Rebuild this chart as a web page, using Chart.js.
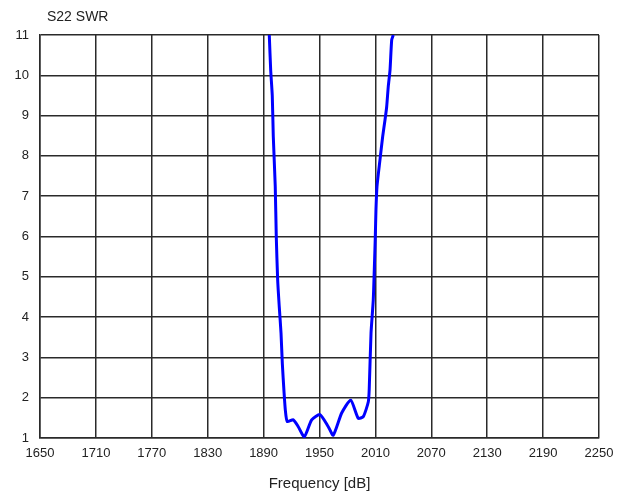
<!DOCTYPE html>
<html>
<head>
<meta charset="utf-8">
<script src="https://cdn.jsdelivr.net/npm/chart.js@4/dist/chart.umd.min.js"></script>
<style>
  html, body { margin: 0; padding: 0; background: #fff; }
  #swrChart { display: block; }
</style>
</head>
<body>
<canvas id="swrChart" width="629" height="497"></canvas>
<script>
// dados
const freqs = [1896.1, 1897.6, 1899.3, 1900.4, 1902.5, 1903.6, 1905.1, 1906.8, 1908.7, 1910.1,
  1911.9, 1913.3, 1915.4, 1921.9, 1927.2, 1933.7, 1941.6, 1950.5, 1959.4, 1964.8,
  1973.8, 1983.5, 1991.6, 1997.0, 2002.4, 2003.4, 2005.3, 2007.7, 2008.8, 2009.9,
  2010.6, 2011.7, 2014.9, 2017.8, 2020.3, 2022.1, 2023.8, 2025.7, 2027.5, 2029.2];
const swr = [11, 10.13, 9.5, 8.48, 7.24, 6.0, 4.92, 4.26, 3.6, 2.85,
  2.15, 1.7, 1.41, 1.45, 1.28, 1.03, 1.45, 1.58, 1.28, 1.07,
  1.62, 1.94, 1.49, 1.53, 1.9, 2.23, 3.6, 4.42, 5.17, 6.0,
  6.66, 7.24, 7.9, 8.48, 8.89, 9.22, 9.72, 10.13, 10.88, 11];
const xTicks = [1650, 1710, 1770, 1830, 1890, 1950, 2010, 2070, 2130, 2190, 2250];
const yTicks = [1, 2, 3, 4, 5, 6, 7, 8, 9, 10, 11];

const ctx = document.getElementById('swrChart').getContext('2d');
const gridColor = '#2a2a2a';
const fontFamily = '"Liberation Sans", Arial, sans-serif';

// título no canto superior
const titlePlugin = {
  id: 'titlePlugin',
  afterDraw(chart) {
    const c = chart.ctx;
    c.save();
    c.fillStyle = '#222';
    c.font = '14px ' + fontFamily;
    c.textBaseline = 'middle';
    c.textAlign = 'left';
    c.fillText('S22 SWR', chart.chartArea.left + 7, 17);
    c.restore();
  }
};

new Chart(ctx, {
  type: 'line',
  data: {
    datasets: [{
      data: freqs.map((f, i) => ({ x: f, y: swr[i] })),
      borderColor: '#0000ff',
      borderWidth: 3,
      pointRadius: 0,
      tension: 0.2,
      fill: false
    }]
  },
  options: {
    responsive: false,
    animation: false,
    layout: {
      padding: { left: 0, right: 30, top: 35, bottom: 0 }
    },
    plugins: {
      legend: { display: false },
      tooltip: { enabled: false }
    },
    scales: {
      x: {
        type: 'linear',
        min: 1650,
        max: 2250,
        afterBuildTicks: s => { s.ticks = xTicks.map(v => ({ value: v })); },
        afterFit: s => { s.height = 59; },
        grid: { color: gridColor, lineWidth: 1.5, drawTicks: false },
        border: { color: gridColor, width: 1.5 },
        ticks: {
          color: '#222',
          padding: 8,
          maxRotation: 0,
          autoSkip: false,
          callback: v => String(v),
          font: { family: fontFamily, size: 13 }
        },
        title: {
          display: true,
          text: 'Frequency [dB]',
          color: '#222',
          padding: { top: 0, bottom: 4 },
          font: { family: fontFamily, size: 15 }
        }
      },
      y: {
        type: 'linear',
        min: 1,
        max: 11,
        afterBuildTicks: s => { s.ticks = yTicks.map(v => ({ value: v })); },
        afterFit: s => { s.width = 40; },
        grid: { color: gridColor, lineWidth: 1.5, drawTicks: false },
        border: { color: gridColor, width: 1.5 },
        ticks: {
          color: '#222',
          padding: 11,
          callback: v => String(v),
          font: { family: fontFamily, size: 13 }
        }
      }
    }
  },
  plugins: [titlePlugin]
});
</script>
</body>
</html>
